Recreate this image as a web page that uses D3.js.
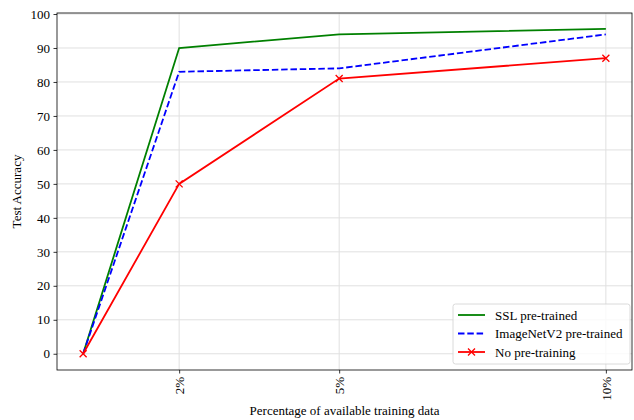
<!DOCTYPE html>
<html>
<head>
<meta charset="utf-8">
<script src="https://cdn.jsdelivr.net/npm/d3@7"></script>
<style>
  body { margin: 0; background: #fff; }
  svg text { font-family: "Liberation Serif", "DejaVu Serif", serif; }
</style>
</head>
<body>
<div id="chart"></div>
<script>
// data
let xValues = [0.2, 2, 5, 10];
let xTicks = [2, 5, 10];
let xTickLabels = ['2%', '5%', '10%'];
let yTicks = [0, 10, 20, 30, 40, 50, 60, 70, 80, 90, 100];
let sslValues = [0, 90, 94, 95.6];
let imagenetValues = [0, 83, 84, 94];
let noPretrainValues = [0, 50, 81, 87];

let series = [
    { name: 'SSL pre-trained', values: sslValues, color: '#008000', dash: null, marker: false },
    { name: 'ImageNetV2 pre-trained', values: imagenetValues, color: '#0000ff', dash: '6.5,2.8', marker: false },
    { name: 'No pre-training', values: noPretrainValues, color: '#ff0000', dash: null, marker: true }
];

let W = 634, H = 420;
let margin = { top: 13, right: 2, bottom: 50, left: 57 };
let width = W - margin.left - margin.right;
let height = H - margin.top - margin.bottom;

let svg = d3.select('#chart')
    .append('svg')
    .attr('width', W)
    .attr('height', H)
    .append('g')
    .attr('transform', 'translate(' + margin.left + ',' + margin.top + ')');

let x = d3.scaleLinear().domain([-0.29, 10.49]).range([0, width]);
let y = d3.scaleLinear().domain([-4.78, 100.3]).range([height, 0]);

// grid
svg.selectAll('.gy').data(yTicks).enter().append('line')
    .attr('x1', 0).attr('x2', width)
    .attr('y1', d => y(d)).attr('y2', d => y(d))
    .attr('stroke', '#e0e0e0').attr('stroke-width', 1);
svg.selectAll('.gx').data(xTicks).enter().append('line')
    .attr('y1', 0).attr('y2', height)
    .attr('x1', d => x(d)).attr('x2', d => x(d))
    .attr('stroke', '#e0e0e0').attr('stroke-width', 1);

// axes
let yAxis = svg.append('g')
    .call(d3.axisLeft(y).tickValues(yTicks).tickSize(3.5).tickPadding(3.5));
let xAxis = svg.append('g')
    .attr('transform', 'translate(0,' + height + ')')
    .call(d3.axisBottom(x).tickValues(xTicks).tickSize(3.5)
        .tickFormat((d, i) => xTickLabels[i]));

[xAxis, yAxis].forEach(a => {
    a.attr('font-family', null);
    a.select('.domain').remove();
    a.selectAll('line').attr('stroke', '#000').attr('stroke-width', 0.8);
    a.selectAll('text').attr('fill', '#000').style('font-size', '13px');
});
xAxis.selectAll('text')
    .attr('text-anchor', 'end')
    .attr('dy', '0.35em')
    .attr('x', 0).attr('y', 0)
    .attr('transform', 'translate(0,7) rotate(-90)');

svg.append('rect')
    .attr('width', width).attr('height', height)
    .attr('fill', 'none').attr('stroke', '#000').attr('stroke-width', 0.8);

// lines
let line = d3.line()
    .x((d, i) => x(xValues[i]))
    .y(d => y(d));

series.forEach(s => {
    svg.append('path')
        .datum(s.values)
        .attr('d', line)
        .attr('fill', 'none')
        .attr('stroke', s.color)
        .attr('stroke-width', 1.8)
        .attr('stroke-dasharray', s.dash);
    if (s.marker) {
        svg.selectAll('.mk').data(s.values).enter().append('path')
            .attr('transform', (d, i) => 'translate(' + x(xValues[i]) + ',' + y(d) + ')')
            .attr('d', 'M-3.5,-3.5L3.5,3.5M-3.5,3.5L3.5,-3.5')
            .attr('stroke', s.color).attr('stroke-width', 1.3).attr('fill', 'none');
    }
});

// labels
svg.append('text')
    .attr('x', width / 2).attr('y', height + 45)
    .attr('text-anchor', 'middle').style('font-size', '13px')
    .text('Percentage of available training data');
svg.append('text')
    .attr('transform', 'translate(' + (-36) + ',' + (height / 2) + ') rotate(-90)')
    .attr('text-anchor', 'middle').style('font-size', '13px')
    .text('Test Accuracy');

// legend
let lg = svg.append('g').attr('transform', 'translate(' + (width - 179) + ',' + (height - 66) + ')');
lg.append('rect')
    .attr('width', 177).attr('height', 60).attr('rx', 2.5)
    .attr('fill', '#fff').attr('fill-opacity', 0.8)
    .attr('stroke', '#d0d0d0').attr('stroke-width', 0.8);
series.forEach((s, i) => {
    let gy = 11 + i * 18.5;
    lg.append('line')
        .attr('x1', 5).attr('x2', 32).attr('y1', gy).attr('y2', gy)
        .attr('stroke', s.color).attr('stroke-width', 1.8)
        .attr('stroke-dasharray', s.dash);
    if (s.marker) {
        lg.append('path')
            .attr('transform', 'translate(18.5,' + gy + ')')
            .attr('d', 'M-3.5,-3.5L3.5,3.5M-3.5,3.5L3.5,-3.5')
            .attr('stroke', s.color).attr('stroke-width', 1.3);
    }
    lg.append('text')
        .attr('x', 42).attr('y', gy).attr('dy', '0.35em')
        .style('font-size', '13px')
        .text(s.name);
});
</script>
</body>
</html>
